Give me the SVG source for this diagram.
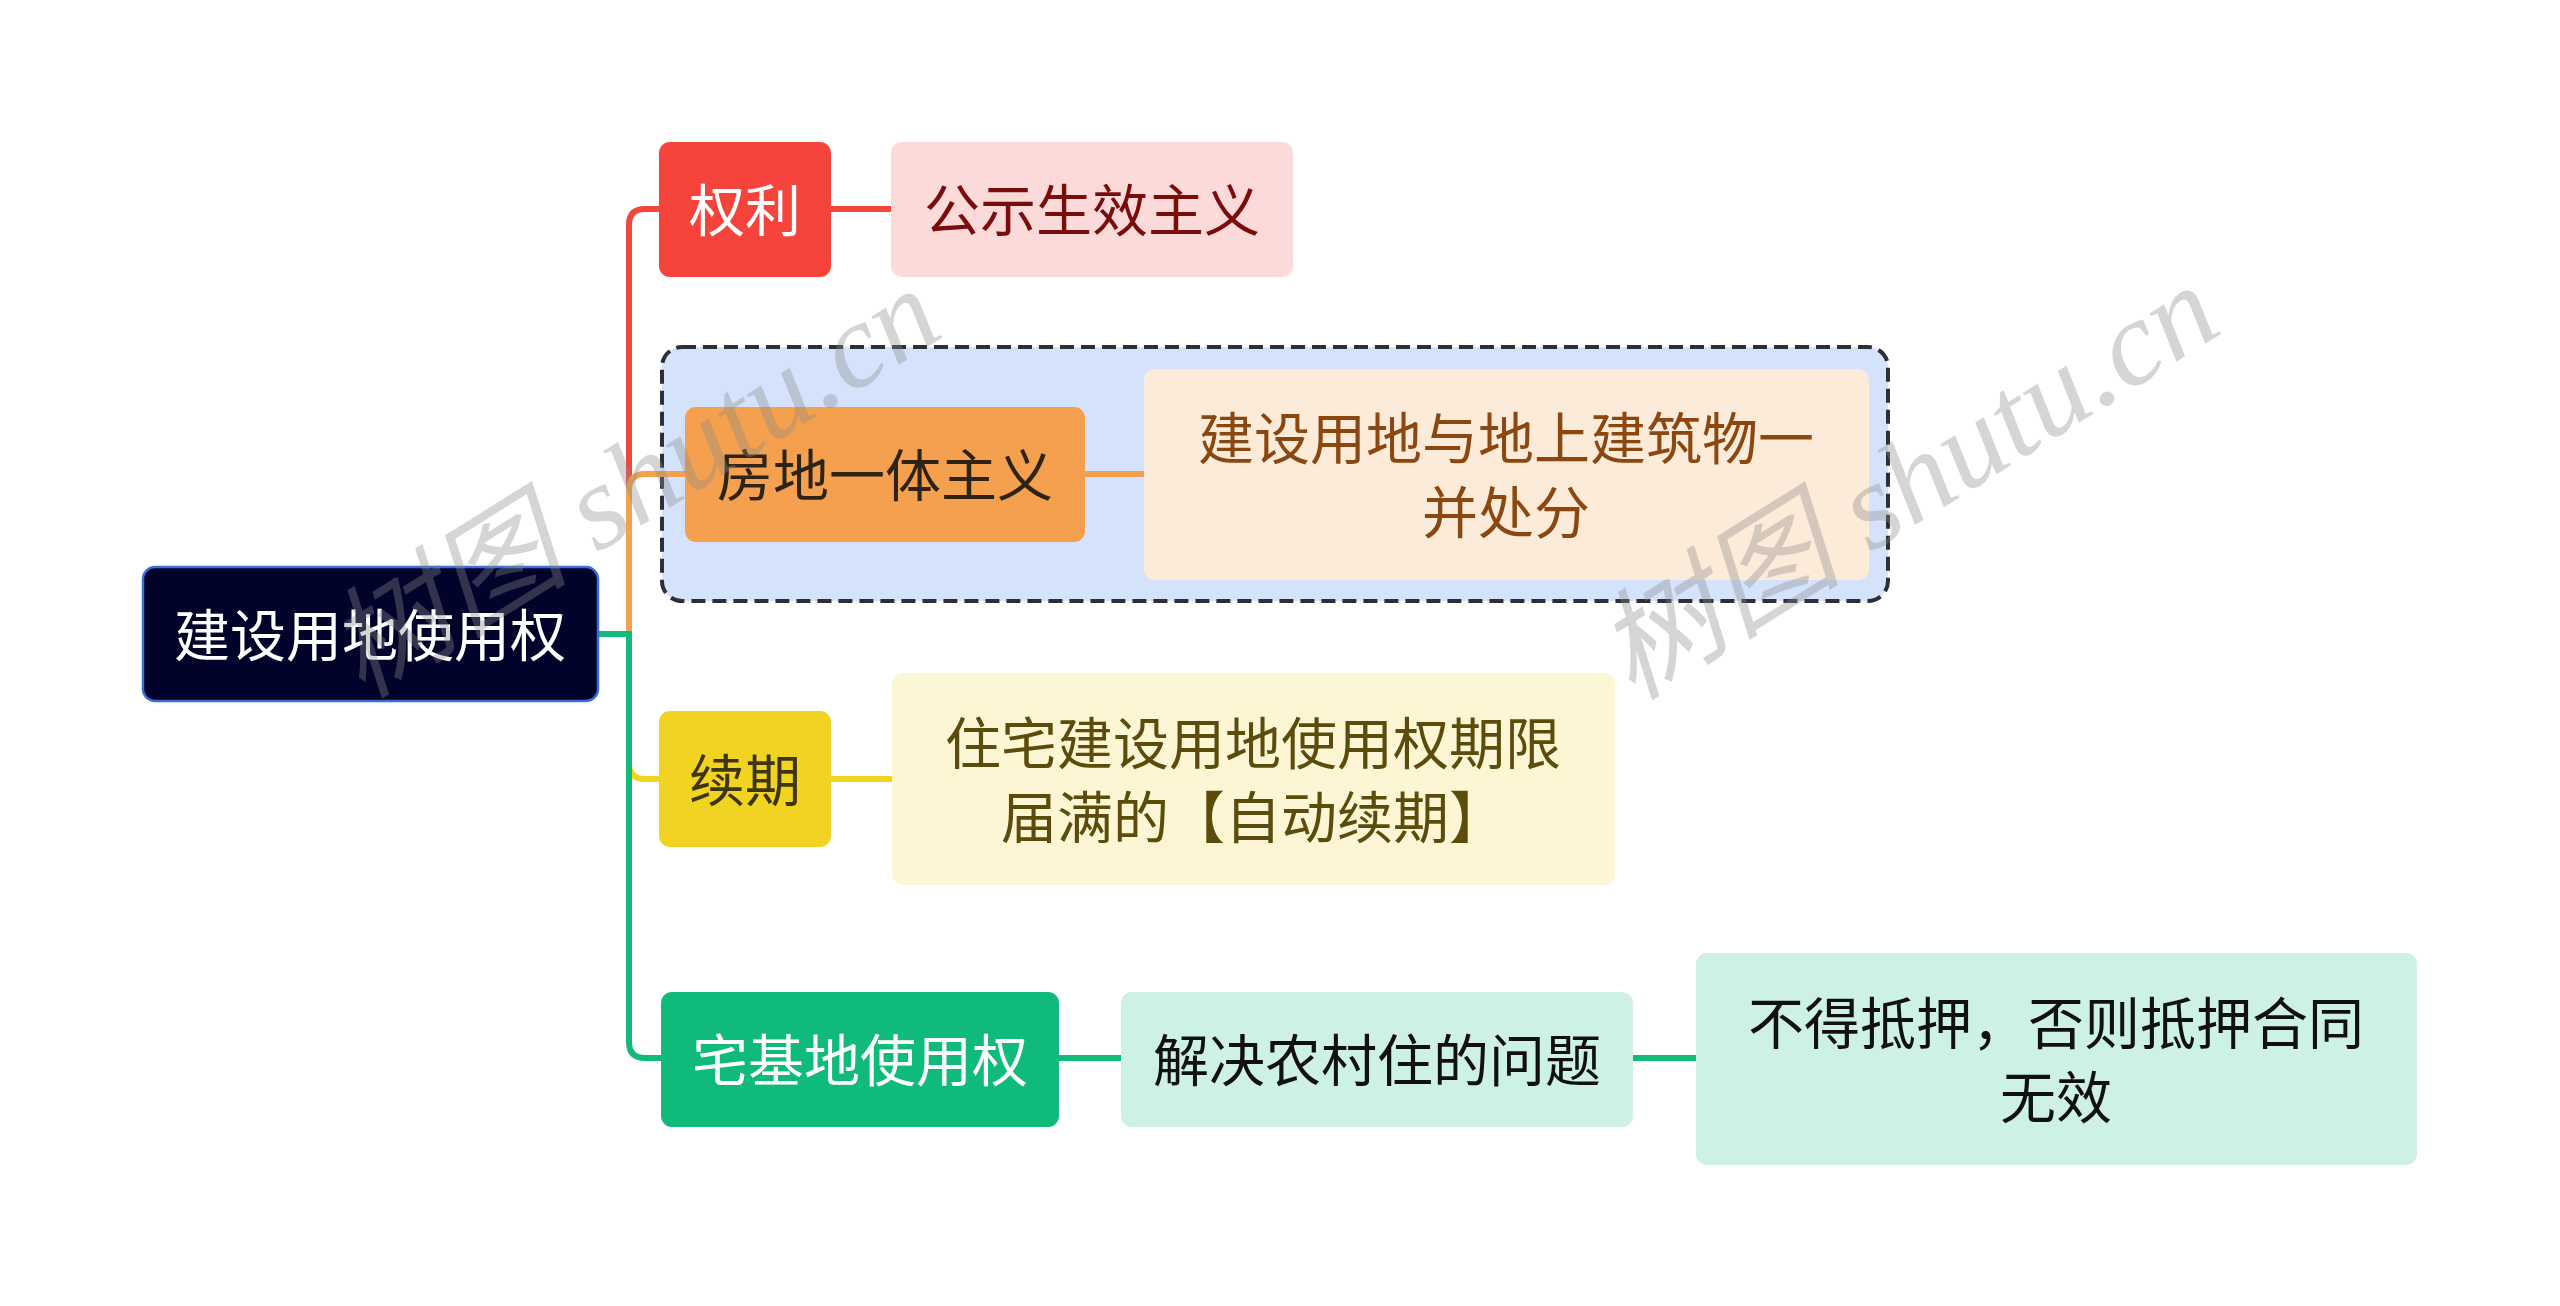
<svg xmlns="http://www.w3.org/2000/svg" width="2560" height="1306" viewBox="0 0 2560 1306">
<style>
.t{font-family:"Noto Sans CJK SC","Noto Sans",sans-serif;font-size:56px;text-anchor:middle;dominant-baseline:central}
.c{fill:none;stroke-width:6;stroke-linecap:butt}
.wm{font-family:"Liberation Serif","Noto Sans CJK SC",serif;font-size:120px;font-style:italic;fill:#8a8a8a;fill-opacity:0.36}
</style>
<rect width="2560" height="1306" fill="#ffffff"/>
<g id="group-box">
<rect x="662" y="347" width="1226" height="254" rx="20" fill="#D4E3FB" stroke="#2B2F36" stroke-width="4" stroke-dasharray="14 7"/>
</g>
<g id="connectors">
<path class="c" stroke="#F2463D" d="M598 634 H629 V225 Q629 209 645 209 H662"/>
<path class="c" stroke="#F2463D" d="M830 209 H893"/>
<path class="c" stroke="#F1D321" d="M598 634 H629 V763 Q629 779 645 779 H661"/>
<path class="c" stroke="#F1D321" d="M831 779 H894"/>
<path class="c" stroke="#F5A04E" d="M598 634 H629 V490 Q629 474 645 474 H687"/>
<path class="c" stroke="#F5A04E" d="M1085 474 H1146"/>
<path class="c" stroke="#0FBA7B" d="M598 634 H629 V1042 Q629 1058 645 1058 H663"/>
<path class="c" stroke="#0FBA7B" d="M1059 1058 H1123"/>
<path class="c" stroke="#0FBA7B" d="M1633 1058 H1698"/>
</g>
<g id="root">
<rect x="143" y="567" width="455" height="134" rx="12" fill="#02032B" stroke="#3A6FD8" stroke-width="2.5"/>
<text class="t" x="370" y="631" fill="#ffffff">建设用地使用权</text>
</g>
<g id="n-quanli">
<rect x="659" y="142" width="172" height="135" rx="11" fill="#F6433B"/>
<text class="t" x="745" y="206" fill="#ffffff">权利</text>
</g>
<g id="n-gongshi">
<rect x="891" y="142" width="402" height="135" rx="11" fill="#FCDADA"/>
<text class="t" x="1092" y="206" fill="#7A0C0C">公示生效主义</text>
</g>
<g id="n-fangdi">
<rect x="685" y="407" width="400" height="135" rx="11" fill="#F5A04E"/>
<text class="t" x="885" y="471" fill="#2E2416">房地一体主义</text>
</g>
<g id="n-fangdi-detail">
<rect x="1144" y="369" width="725" height="211" rx="11" fill="#FDEBDA"/>
<text class="t" x="1506" y="434" fill="#8A4710">建设用地与地上建筑物一</text>
<text class="t" x="1506" y="508" fill="#8A4710">并处分</text>
</g>
<g id="n-xuqi">
<rect x="659" y="711" width="172" height="136" rx="11" fill="#F1D321"/>
<text class="t" x="745" y="776" fill="#3E3512">续期</text>
</g>
<g id="n-xuqi-detail">
<rect x="892" y="673" width="723" height="212" rx="11" fill="#FCF6D4"/>
<text class="t" x="1253" y="739" fill="#5C4C0C">住宅建设用地使用权期限</text>
<text class="t" x="1253" y="813" fill="#5C4C0C">届满的【自动续期】</text>
</g>
<g id="n-zhaiji">
<rect x="661" y="992" width="398" height="135" rx="11" fill="#0FBA7B"/>
<text class="t" x="860" y="1056" fill="#ffffff">宅基地使用权</text>
</g>
<g id="n-jiejue">
<rect x="1121" y="992" width="512" height="135" rx="11" fill="#CDF1E2"/>
<text class="t" x="1377" y="1056" fill="#111111">解决农村住的问题</text>
</g>
<g id="n-bude">
<rect x="1696" y="953" width="721" height="212" rx="11" fill="#CDF1E2"/>
<text class="t" x="2056" y="1019" fill="#111111">不得抵押，否则抵押合同</text>
<text class="t" x="2056" y="1093" fill="#111111">无效</text>
</g>
<g id="watermark">
<text class="wm" transform="translate(362 700) rotate(-32)" textLength="690" lengthAdjust="spacingAndGlyphs">树图 shutu.cn</text>
<text class="wm" transform="translate(1632 702) rotate(-32)" textLength="700" lengthAdjust="spacingAndGlyphs">树图 shutu.cn</text>
</g>
</svg>
